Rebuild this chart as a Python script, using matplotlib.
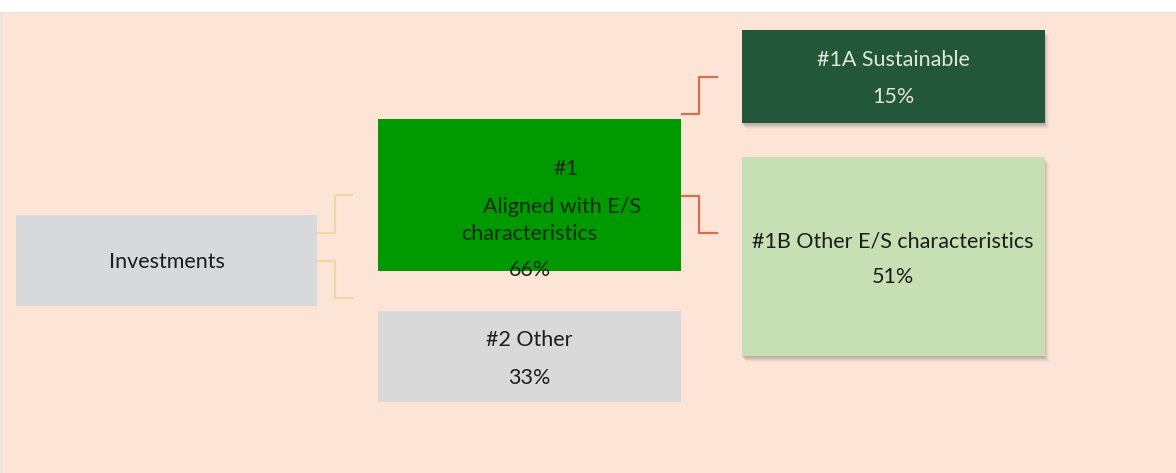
import matplotlib
matplotlib.use("Agg")
import matplotlib.pyplot as plt
from matplotlib.patches import Rectangle

# ---- data ----
labels = ["Investments", "#1\nAligned with E/S\ncharacteristics", "#2 Other",
          "#1A Sustainable", "#1B Other E/S characteristics"]
shares = [None, 66, 33, 15, 51]

W, H = 1176, 473
fig = plt.figure(figsize=(W / 100, H / 100), dpi=100)
ax = fig.add_axes([0, 0, 1, 1])
ax.set_xlim(0, W)
ax.set_ylim(H, 0)
ax.axis("off")
fig.patch.set_facecolor("white")

FONT = "Lato"
BG = "#fce4d6"
ax.add_patch(Rectangle((0, 12), W, H - 12, facecolor=BG, edgecolor="none", zorder=0))
ax.plot([0, W], [12.5, 12.5], color="#e6e0dc", lw=1, zorder=1)
ax.plot([0.5, 0.5], [12, H], color="#e3e3e3", lw=1, zorder=1)

# boxes: (x0, y0, x1, y1, face, shadow)
boxes = [
    (16, 215, 317, 306, "#d8d9da", False),
    (378, 119, 681, 271, "#009a00", False),
    (378, 311, 681, 402, "#d9d9d9", False),
    (742, 30, 1045, 123, "#22573a", True),
    (742, 157, 1045, 356, "#c6e0b4", True),
]
for x0, y0, x1, y1, fc, sh in boxes:
    if sh:
        for k, a in zip([6, 5, 4, 3, 2], [0.04, 0.06, 0.08, 0.10, 0.12]):
            ax.add_patch(Rectangle((x0 + k - 2, y0 + k), x1 - x0, y1 - y0,
                                   facecolor="#555555", alpha=a, edgecolor="none", zorder=2))
    ax.add_patch(Rectangle((x0, y0), x1 - x0, y1 - y0, facecolor=fc,
                           edgecolor="none", zorder=3))

# connectors
yel = "#f2d7a2"
red = "#d5704e"
ax.plot([317, 335, 335, 352], [233, 233, 195, 195], color=yel, lw=1.5, zorder=4)
ax.plot([317, 335, 335, 352], [261, 261, 298, 298], color=yel, lw=1.5, zorder=4)
ax.plot([682, 699, 699, 717], [114, 114, 77, 77], color=red, lw=1.6, zorder=4)
ax.plot([682, 699, 699, 717], [196, 196, 233, 233], color=red, lw=1.6, zorder=4)

fs = 15.5
dark = "#1c1c1c"

def txt(x, y, s, color=dark):
    ax.text(x, y + 2, s, ha="center", va="center", fontsize=fs, family=FONT,
            color=color, zorder=5)

# Investments
txt(167, 260, labels[0])
# #1
l1 = labels[1].split("\n")
txt(566, 167, l1[0], "#0f2a0f")
txt(562, 205, l1[1], "#0f2a0f")
txt(529, 232, l1[2], "#0f2a0f")
txt(530, 268, f"{shares[1]}%", "#0f2a0f")
# #2
txt(529, 338, labels[2])
txt(529, 376, f"{shares[2]}%")
# #1A
txt(893, 58, labels[3], "#dfe6df")
txt(893, 95, f"{shares[3]}%", "#dfe6df")
# #1B
txt(893, 239, labels[4])
txt(893, 275, f"{shares[4]}%")

fig.savefig("out.png", dpi=100, facecolor="white")
